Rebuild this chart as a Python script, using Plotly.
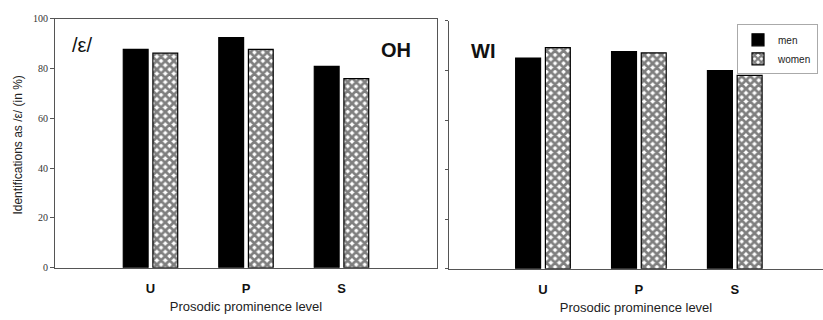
import plotly.graph_objects as go

categories = ["U", "P", "S"]
oh_men = [87.6, 92.3, 80.8]
oh_women = [86.1, 87.6, 75.9]
wi_men = [85.0, 87.6, 80.0]
wi_women = [89.2, 87.1, 78.0]
y_ticks = [0, 20, 40, 60, 80, 100]

W, H = 823, 320
fig = go.Figure()

pattern = dict(shape="x", fgcolor="#000", bgcolor="#fff", size=6, solidity=0.7)
line = dict(color="#000", width=1.2)

fig.add_trace(go.Bar(x=categories, y=oh_men, name="men", marker=dict(color="#000", line=line),
                     offset=-0.285, width=0.26, xaxis="x", yaxis="y", showlegend=False))
fig.add_trace(go.Bar(x=categories, y=oh_women, name="women",
                     marker=dict(color="#fff", pattern=pattern, line=line),
                     offset=0.025, width=0.26, xaxis="x", yaxis="y", showlegend=False))
fig.add_trace(go.Bar(x=categories, y=wi_men, name="men", marker=dict(color="#000", line=line),
                     offset=-0.285, width=0.26, xaxis="x2", yaxis="y2"))
fig.add_trace(go.Bar(x=categories, y=wi_women, name="women",
                     marker=dict(color="#fff", pattern=pattern, line=line),
                     offset=0.025, width=0.26, xaxis="x2", yaxis="y2"))

axcol = "#555"
common_x = dict(type="category", categoryorder="array", categoryarray=categories,
                showline=True, linecolor=axcol, linewidth=1, ticks="",
                tickfont=dict(family="Liberation Sans, Arial", size=13, color="#111", weight="bold"),
                ticklabelstandoff=9,
                title=dict(text="Prosodic prominence level",
                           font=dict(family="Liberation Sans, Arial", size=13, color="#222"),
                           standoff=6),
                showgrid=False, zeroline=False, fixedrange=True)

fig.update_layout(
    width=W, height=H, margin=dict(l=0, r=0, t=0, b=0),
    paper_bgcolor="#fff", plot_bgcolor="#fff",
    barmode="overlay",
    xaxis=dict(**common_x, domain=[55 / W, 437 / W], range=[-1, 3], anchor="y", mirror=True),
    yaxis=dict(domain=[(H - 272) / H, (H - 13) / H], range=[0, 100], tickvals=y_ticks,
               showline=True, linecolor=axcol, linewidth=1, mirror=True,
               ticks="outside", ticklen=4, tickcolor=axcol,
               tickfont=dict(family="Liberation Serif, Times New Roman", size=10, color="#333"),
               showgrid=False, zeroline=False, anchor="x"),
    xaxis2=dict(**common_x, domain=[449 / W, 1.0], range=[-0.98, 2.92], anchor="y2", mirror=False),
    yaxis2=dict(domain=[(H - 273) / H, (H - 15.5) / H], range=[0, 100], tickvals=y_ticks,
                showline=True, linecolor=axcol, linewidth=1, mirror=False,
                ticks="outside", ticklen=3, tickcolor=axcol, showticklabels=False,
                showgrid=False, zeroline=False, anchor="x2"),
    legend=dict(x=737 / W, y=1 - 19 / H, xanchor="left", yanchor="top",
                bordercolor="#aaa", borderwidth=1, bgcolor="#fff",
                font=dict(family="Liberation Sans, Arial", size=10, color="#222"),
                itemwidth=30, tracegroupgap=0),
    showlegend=True,
)

annotations = [
    dict(text="/ε/", x=70 / W, y=1 - 40 / H, xanchor="left", yanchor="middle",
         font=dict(family="Liberation Sans, Arial", size=20, color="#111")),
    dict(text="<b>OH</b>", x=413 / W, y=1 - 46 / H, xanchor="right", yanchor="middle",
         font=dict(family="Liberation Sans, Arial", size=20, color="#111")),
    dict(text="<b>WI</b>", x=469 / W, y=1 - 47 / H, xanchor="left", yanchor="middle",
         font=dict(family="Liberation Sans, Arial", size=20, color="#111")),
    dict(text="Identifications as /ε/ (in %)", x=18 / W, y=1 - 145 / H, textangle=-90,
         xanchor="center", yanchor="middle",
         font=dict(family="Liberation Sans, Arial", size=12, color="#222")),
]
for a in annotations:
    a.update(xref="paper", yref="paper", showarrow=False)
fig.update_layout(annotations=annotations)

fig.write_html("out.html")
